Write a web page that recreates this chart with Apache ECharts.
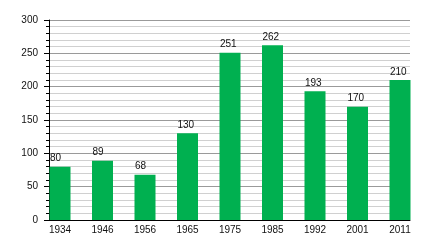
<!DOCTYPE html>
<html><head><meta charset="utf-8">
<script src="https://cdn.jsdelivr.net/npm/echarts@6/dist/echarts.min.js"></script>
<style>html,body{margin:0;padding:0;background:#fff}#c{width:440px;height:240px}</style>
</head><body><div id="c"></div>
<script>
var categories = ['1934','1946','1956','1965','1975','1985','1992','2001','2011'];
var values = [80, 89, 68, 130, 251, 262, 193, 170, 210];
var yTicks = [0, 50, 100, 150, 200, 250, 300];

var chart = echarts.init(document.getElementById('c'), null, {renderer:'canvas'});
var font = 'Liberation Sans, Arial, sans-serif';
chart.setOption({
  animation: false,
  grid: [
    {left: 49, right: 30, top: 20, bottom: 20},
    {left: 60, right: 40, top: 20, bottom: 20}
  ],
  xAxis: [
    {gridIndex: 0, type: 'value', min: 0, max: 1,
     axisLine: {show: true, lineStyle: {color: '#000', width: 1}},
     axisTick: {show: false}, axisLabel: {show: false}, splitLine: {show: false}},
    {gridIndex: 1, type: 'category', data: categories, boundaryGap: false,
     axisLine: {show: false}, axisTick: {show: false},
     axisLabel: {color: '#111', fontSize: 10, fontFamily: font, margin: 5}}
  ],
  yAxis: [
    {gridIndex: 0, type: 'value', min: yTicks[0], max: yTicks[yTicks.length-1], interval: 50,
     axisLine: {show: true, lineStyle: {color: '#000', width: 1}},
     axisTick: {show: true, length: 5, lineStyle: {color: '#000'}},
     minorTick: {show: true, splitNumber: 5, length: 3, lineStyle: {color: '#000'}},
     axisLabel: {color: '#111', fontSize: 10, fontFamily: font, margin: 11},
     splitLine: {show: true, lineStyle: {color: '#9a9a9a', width: 1}},
     minorSplitLine: {show: true, lineStyle: {color: '#d0d0d0', width: 1}}},
    {gridIndex: 1, type: 'value', min: 0, max: 300, show: false}
  ],
  series: [{
    type: 'bar', xAxisIndex: 1, yAxisIndex: 1, data: values, barWidth: 21, clip: false,
    itemStyle: {color: '#00b050'},
    label: {show: true, position: 'top', distance: 3, align: 'left', offset: [-10, 0],
            color: '#111', fontSize: 10, fontFamily: font}
  }]
});
</script></body></html>
